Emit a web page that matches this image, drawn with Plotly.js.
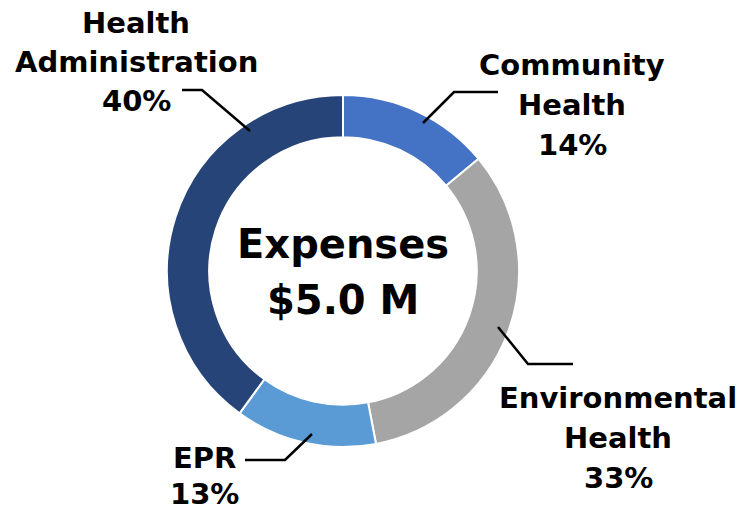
<!DOCTYPE html>
<html><head><meta charset="utf-8">
<script src="https://cdn.plot.ly/plotly-3.0.1.min.js"></script>
<style>html,body{margin:0;padding:0;background:#fff}#c{width:751px;height:512px}</style>
</head><body><div id="c"></div>
<script>
const categories = ["Community Health", "Environmental Health", "EPR", "Health Administration"];
const shares = [14, 33, 13, 40];
const colors = ["#4472C4", "#A5A5A5", "#5B9BD5", "#264478"];
const labelLines = [["Community", "Health", "14%"], ["Environmental", "Health", "33%"], ["EPR", "13%"], ["Health", "Administration", "40%"]];
const centerLines = ["Expenses", "$5.0 M"];

const W = 751, H = 512;
const px = x => x / W, py = y => 1 - y / H;
const cx = 343, cy = 271, R = 176;

// label layout (pixel): center x, first line center y, spacing
const labelPos = [
  {x: 572, y: 65, dy: 40},
  {x: 618, y: 398, dy: 40},
  {x: 204, y: 458, dy: 36},
  {x: 136, y: 23, dy: 39}
];
const leaders = [
  [[498, 92], [454, 92], [423, 123]],
  [[498, 327], [528, 364], [573, 364]],
  [[312, 434], [285, 460], [245, 460]],
  [[182, 90], [202, 90], [250, 131]]
];

const font = "DejaVu Sans, Verdana, sans-serif";
const annotations = [];
labelLines.forEach((lines, i) => {
  lines.forEach((t, j) => {
    annotations.push({
      text: "<b>" + t + "</b>", xref: "paper", yref: "paper",
      x: px(labelPos[i].x), y: py(labelPos[i].y + j * labelPos[i].dy),
      xanchor: "center", yanchor: "middle", showarrow: false,
      font: {family: font, size: 29, color: "#000"}
    });
  });
});
const centerY = [244, 300];
centerLines.forEach((t, j) => {
  annotations.push({
    text: "<b>" + t + "</b>", xref: "paper", yref: "paper",
    x: px(cx), y: py(centerY[j]), xanchor: "center", yanchor: "middle", showarrow: false,
    font: {family: font, size: 40, color: "#000"}
  });
});

const shapes = leaders.map(pts => ({
  type: "path", xref: "paper", yref: "paper",
  path: pts.map((p, k) => (k ? "L" : "M") + px(p[0]) + "," + py(p[1])).join(" "),
  line: {color: "#000", width: 2.5}
}));

const trace = {
  type: "pie", labels: categories, values: shares, sort: false, direction: "clockwise",
  rotation: 0, hole: 0.76, textinfo: "none", hoverinfo: "none",
  marker: {colors: colors, line: {color: "#fff", width: 2}},
  domain: {x: [px(cx - R), px(cx + R)], y: [py(cy + R), py(cy - R)]},
  showlegend: false
};

Plotly.newPlot("c", [trace], {
  width: W, height: H, margin: {l: 0, r: 0, t: 0, b: 0},
  paper_bgcolor: "#fff", plot_bgcolor: "#fff", showlegend: false,
  annotations: annotations, shapes: shapes
}, {staticPlot: true});
</script></body></html>
